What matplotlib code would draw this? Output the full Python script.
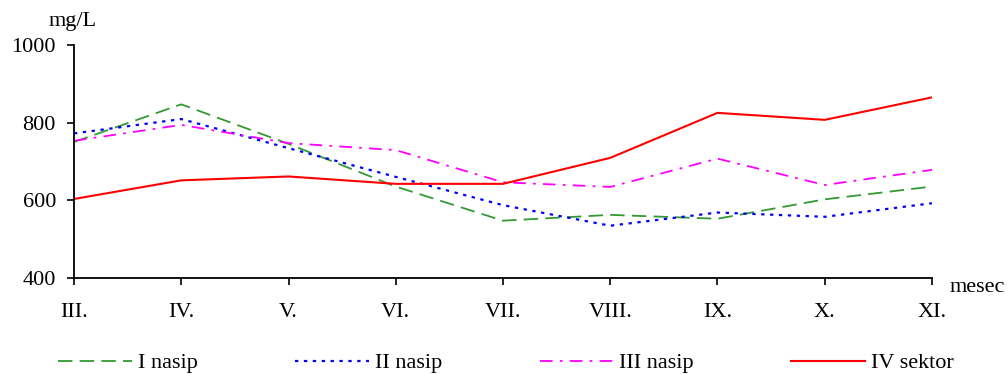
import matplotlib
matplotlib.use("Agg")
import matplotlib.pyplot as plt

months = ["III.", "IV.", "V.", "VI.", "VII.", "VIII.", "IX.", "X.", "XI."]
nasip_1 = [750, 847, 745, 635, 547, 562, 552, 602, 635]
nasip_2 = [772, 809, 734, 660, 587, 534, 568, 557, 592]
nasip_3 = [753, 794, 747, 729, 646, 634, 707, 639, 678]
sektor_4 = [603, 651, 661, 642, 642, 709, 825, 807, 865]

series_names = ["I nasip", "II nasip", "III nasip", "IV sektor"]
y_ticks = [400, 600, 800, 1000]

plt.rcParams["font.family"] = ["Liberation Serif", "DejaVu Serif"]
FS = 16

fig = plt.figure(figsize=(10.07, 3.74), dpi=100)
ax = fig.add_axes([0.0735, 0.2575, 0.852, 0.6222])

x = list(range(len(months)))
ax.plot(x, nasip_1, color="#339933", lw=1.3, dashes=(8, 4), label=series_names[0])
ax.plot(x, nasip_2, color="#0000FF", lw=1.6, dashes=(1.5, 2.5), label=series_names[1])
ax.plot(x, nasip_3, color="#FF00FF", lw=1.3, dashes=(7, 4, 1.5, 4), label=series_names[2])
ax.plot(x, sektor_4, color="#FF0000", lw=1.5, label=series_names[3])

ax.set_xlim(0, len(months) - 1)
ax.set_ylim(400, 1000)
ax.set_xticks(x)
ax.set_xticklabels(months)
ax.set_yticks(y_ticks)
ax.tick_params(axis="both", labelsize=FS, direction="out", length=5, width=1.2, colors="black")
ax.tick_params(axis="x", pad=13)
ax.tick_params(axis="y", pad=8)

for side in ("top", "right"):
    ax.spines[side].set_visible(False)
for side in ("left", "bottom"):
    ax.spines[side].set_linewidth(1.3)

fig.text(0.048, 0.918, "mg/L", fontsize=FS, ha="left", va="bottom")
fig.text(0.943, 0.207, "mesec", fontsize=FS, ha="left", va="bottom")

fig.legend(loc="lower left", bbox_to_anchor=(0.049, -0.022), ncol=4, frameon=False,
           prop={"family": ["Liberation Serif"], "size": FS},
           handlelength=3.3, handletextpad=0.27, columnspacing=4.4,
           borderaxespad=0.0)

fig.savefig("out.png", dpi=100)
